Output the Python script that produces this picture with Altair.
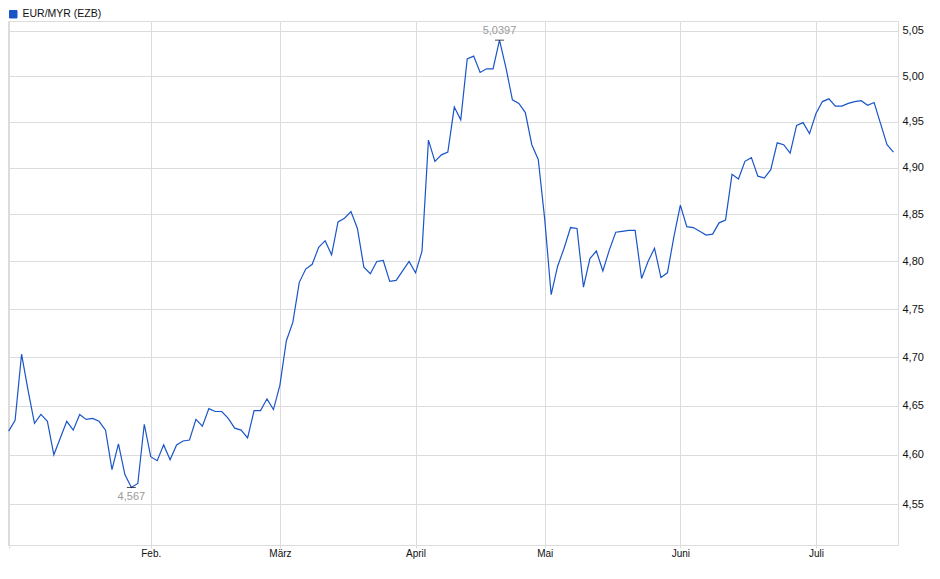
import json
import altair as alt
import pandas as pd

series_name = "EUR/MYR (EZB)"

# daily ECB reference rates (trading days, Jan 2 .. Jul 17)
values = [
    4.624, 4.635, 4.703, 4.666, 4.632, 4.641, 4.634, 4.600, 4.617, 4.634,
    4.625, 4.641, 4.636, 4.637, 4.634, 4.625, 4.585, 4.611, 4.580, 4.567,
    4.571, 4.631, 4.598, 4.594, 4.610, 4.595, 4.610, 4.614, 4.615, 4.636,
    4.629, 4.647, 4.644, 4.644, 4.637, 4.627, 4.625, 4.617, 4.645, 4.645,
    4.657, 4.646, 4.671, 4.717, 4.736, 4.778, 4.792, 4.797, 4.815, 4.822,
    4.807, 4.842, 4.846, 4.853, 4.835, 4.794, 4.787, 4.800, 4.801, 4.779,
    4.780, 4.790, 4.800, 4.788, 4.811, 4.930, 4.907, 4.914, 4.917, 4.966,
    4.952, 5.019, 5.022, 5.004, 5.008, 5.008, 5.0397, 5.009, 4.974, 4.970,
    4.960, 4.925, 4.909, 4.845, 4.765, 4.795, 4.814, 4.836, 4.835, 4.773,
    4.803, 4.811, 4.790, 4.812, 4.831, 4.832, 4.833, 4.833, 4.782, 4.800,
    4.814, 4.783, 4.788, 4.826, 4.860, 4.837, 4.836, 4.832, 4.828, 4.829,
    4.841, 4.844, 4.893, 4.888, 4.907, 4.911, 4.891, 4.889, 4.898, 4.927,
    4.925, 4.916, 4.946, 4.949, 4.937, 4.959, 4.972, 4.975, 4.967, 4.967,
    4.970, 4.972, 4.973, 4.968, 4.971, 4.948, 4.925, 4.917,
]

# first trading day of each month (index into values) and its label
month_idx = [0, 22, 42, 63, 83, 104, 125]
month_lab = ["", "Feb.", "März", "April", "Mai", "Juni", "Juli"]

y_ticks = [4.55, 4.60, 4.65, 4.70, 4.75, 4.80, 4.85, 4.90, 4.95, 5.00, 5.05]

df = pd.DataFrame({"i": list(range(len(values))), "v": values, "s": series_name})

imin = int(df["v"].idxmin())
imax = int(df["v"].idxmax())
ext = pd.DataFrame({
    "i": [imin, imax],
    "v": [values[imin], values[imax]],
    "lab": [str(values[imin]).replace(".", ","), str(values[imax]).replace(".", ",")],
    "pos": ["low", "high"],
})

FONT = "Liberation Sans"
GRID = "#dcdcdc"
BLUE = "#1a55c8"

x_label_expr = (
    json.dumps(month_lab, ensure_ascii=False).replace('"', "'")
    + "[indexof(" + json.dumps(month_idx) + ", datum.value)]"
)

x_enc = alt.X(
    "i:Q",
    scale=alt.Scale(domain=[-0.1, 137.7], nice=False, zero=False),
    axis=alt.Axis(
        values=month_idx, labelExpr=x_label_expr, title=None, grid=True,
        gridColor=GRID, tickColor=GRID, tickSize=3, domain=False,
        labelFontSize=10, labelPadding=0, labelColor="#111", labelFont=FONT,
        labelFlush=False, labelOverlap=False,
    ),
)
y_enc = alt.Y(
    "v:Q",
    scale=alt.Scale(type="log", domain=[4.5095, 5.061], nice=False, zero=False),
    axis=alt.Axis(
        orient="right", values=y_ticks,
        labelExpr="replace(format(datum.value, '.2f'), '.', ',')",
        ticks=False, domain=False, grid=True, gridColor=GRID, title=None,
        labelFontSize=11, labelPadding=4, labelColor="#111", labelFont=FONT,
        labelFlush=False, labelOverlap=False,
    ),
)

line = alt.Chart(df).mark_line(strokeWidth=1.2, clip=True).encode(
    x=x_enc,
    y=y_enc,
    color=alt.Color(
        "s:N",
        scale=alt.Scale(range=[BLUE]),
        legend=alt.Legend(
            title=None, orient="none", legendX=0, legendY=-12,
            symbolType="square", symbolSize=56, symbolFillColor=BLUE,
            symbolStrokeColor="#0b2a6a", symbolStrokeWidth=1,
            labelFontSize=10.5, labelFont=FONT, labelColor="#111",
            labelOffset=4, padding=0, symbolOffset=0,
        ),
    ),
)

ticks = alt.Chart(ext).mark_tick(orient="horizontal", size=9, thickness=1, color="#000").encode(
    x="i:Q", y="v:Q"
)

low_txt = alt.Chart(ext).transform_filter("datum.pos == 'low'").mark_text(
    dy=10, fontSize=11, font=FONT, color="#9a9a9a", baseline="middle"
).encode(x="i:Q", y="v:Q", text="lab:N")

high_txt = alt.Chart(ext).transform_filter("datum.pos == 'high'").mark_text(
    dy=-9, fontSize=11, font=FONT, color="#9a9a9a", baseline="middle"
).encode(x="i:Q", y="v:Q", text="lab:N")

chart = alt.layer(line, ticks, low_txt, high_txt).properties(
    width=890,
    height=524,
    autosize=alt.AutoSizeParams(type="none"),
    padding={"left": 0, "top": 13, "right": 34, "bottom": 26},
    background="white",
).configure_view(
    stroke=GRID, strokeWidth=1
)

chart.save("out.html", embed_options={"renderer": "svg", "actions": False})
